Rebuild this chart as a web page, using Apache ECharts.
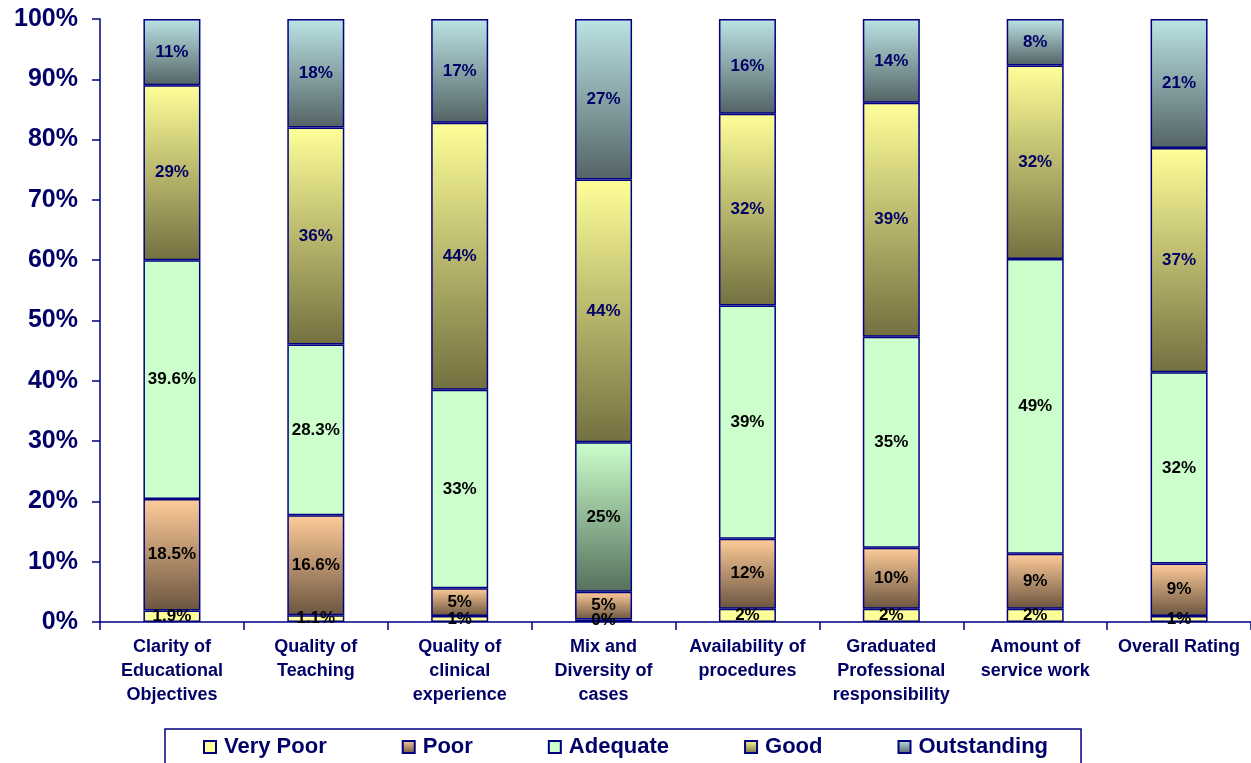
<!DOCTYPE html>
<html>
<head>
<meta charset="utf-8">
<title>Program evaluation ratings</title>
<script src="https://cdn.jsdelivr.net/npm/echarts@6/dist/echarts.min.js"></script>
<style>
  html, body { margin: 0; padding: 0; background: #ffffff; }
  #chart { width: 1251px; height: 763px; }
</style>
</head>
<body>
<div id="chart"></div>
<script>
// Rating categories (line breaks as printed under the axis)
const categories = [
  'Clarity of\nEducational\nObjectives',
  'Quality of\nTeaching',
  'Quality of\nclinical\nexperience',
  'Mix and\nDiversity of\ncases',
  'Availability of\nprocedures',
  'Graduated\nProfessional\nresponsibility',
  'Amount of\nservice work',
  'Overall Rating'
];

// Share of responses (%) per rating level, one value per category
const veryPoor    = [1.9, 1.1, 1.0, 0.4, 2.2, 2.2, 2.2, 1.0];
const poor        = [18.5, 16.6, 4.6, 4.6, 11.6, 10.1, 9.1, 8.7];
const adequate    = [39.6, 28.3, 32.9, 24.8, 38.7, 35.0, 48.9, 31.7];
const good        = [29, 36, 44.3, 43.6, 31.8, 38.8, 32.1, 37.2];
const outstanding = [11, 18, 17.2, 26.6, 15.7, 13.9, 7.7, 21.4];

// Decimal places printed in the segment labels of each category
const labelDecimals = [1, 1, 0, 0, 0, 0, 0, 0];

// Y axis ticks
const yMin = 0, yMax = 100, yStep = 10;

const FONT = '"Liberation Sans", Arial, sans-serif';
const NAVY = '#000066';
const EDGE = '#000080';

function vGrad(top, bottom) {
  return new echarts.graphic.LinearGradient(0, 0, 0, 1, [
    { offset: 0, color: top },
    { offset: 1, color: bottom }
  ]);
}

function fmt(p) {
  const d = labelDecimals[p.dataIndex];
  return Number(p.value.toFixed(d)) + '%';
}

function seg(name, data, fill, labelColor) {
  return {
    name: name,
    type: 'bar',
    stack: 'total',
    barWidth: 57,
    data: data,
    itemStyle: { color: fill, borderColor: EDGE, borderWidth: 1.5 },
    label: {
      show: true,
      position: 'inside',
      formatter: fmt,
      color: labelColor,
      fontFamily: FONT,
      fontWeight: 'bold',
      fontSize: 17
    },
    emphasis: { disabled: true }
  };
}

// The "Mix and Diversity" adequate block is shaded darker toward its base
const mixIndex = categories.indexOf('Mix and\nDiversity of\ncases');
const adequateData = adequate.map((v, i) =>
  i === mixIndex ? { value: v, itemStyle: { color: vGrad('#CCFFCC', '#55705C') } } : v
);

const chart = echarts.init(document.getElementById('chart'), null, { renderer: 'canvas' });

chart.setOption({
  animation: false,
  backgroundColor: '#ffffff',
  grid: { left: 100, right: 0, top: 19, bottom: 141 },
  legend: {
    left: 165,
    top: 729,
    padding: [7, 33, 40, 38],
    itemGap: 75,
    itemWidth: 12,
    itemHeight: 12,
    icon: 'rect',
    borderColor: EDGE,
    borderWidth: 1.5,
    selectedMode: false,
    textStyle: { fontFamily: FONT, fontWeight: 'bold', fontSize: 22, color: NAVY, padding: [0, 0, 0, 3] },
    data: ['Very Poor', 'Poor', 'Adequate', 'Good', 'Outstanding']
  },
  xAxis: {
    type: 'category',
    data: categories,
    axisLine: { lineStyle: { color: EDGE, width: 1.5 } },
    axisTick: { show: true, length: 8, interval: 0, lineStyle: { color: EDGE, width: 1.5 } },
    axisLabel: {
      interval: 0,
      margin: 13,
      color: NAVY,
      fontFamily: FONT,
      fontWeight: 'bold',
      fontSize: 18,
      lineHeight: 24
    }
  },
  yAxis: {
    type: 'value',
    min: yMin,
    max: yMax,
    interval: yStep,
    axisLine: { show: true, lineStyle: { color: EDGE, width: 1.5 } },
    axisTick: { show: true, length: 8, lineStyle: { color: EDGE, width: 1.5 } },
    splitLine: { show: false },
    axisLabel: {
      formatter: '{value}%',
      margin: 22,
      color: NAVY,
      fontFamily: FONT,
      fontWeight: 'bold',
      fontSize: 25
    }
  },
  series: [
    seg('Very Poor', veryPoor, '#FFFF99', '#000000'),
    seg('Poor', poor, vGrad('#FFCC99', '#6B5540'), '#000000'),
    seg('Adequate', adequateData, '#CCFFCC', '#000000'),
    seg('Good', good, vGrad('#FFFF99', '#737040'), NAVY),
    seg('Outstanding', outstanding, vGrad('#BCE3E5', '#536365'), NAVY)
  ]
});
</script>
</body>
</html>
